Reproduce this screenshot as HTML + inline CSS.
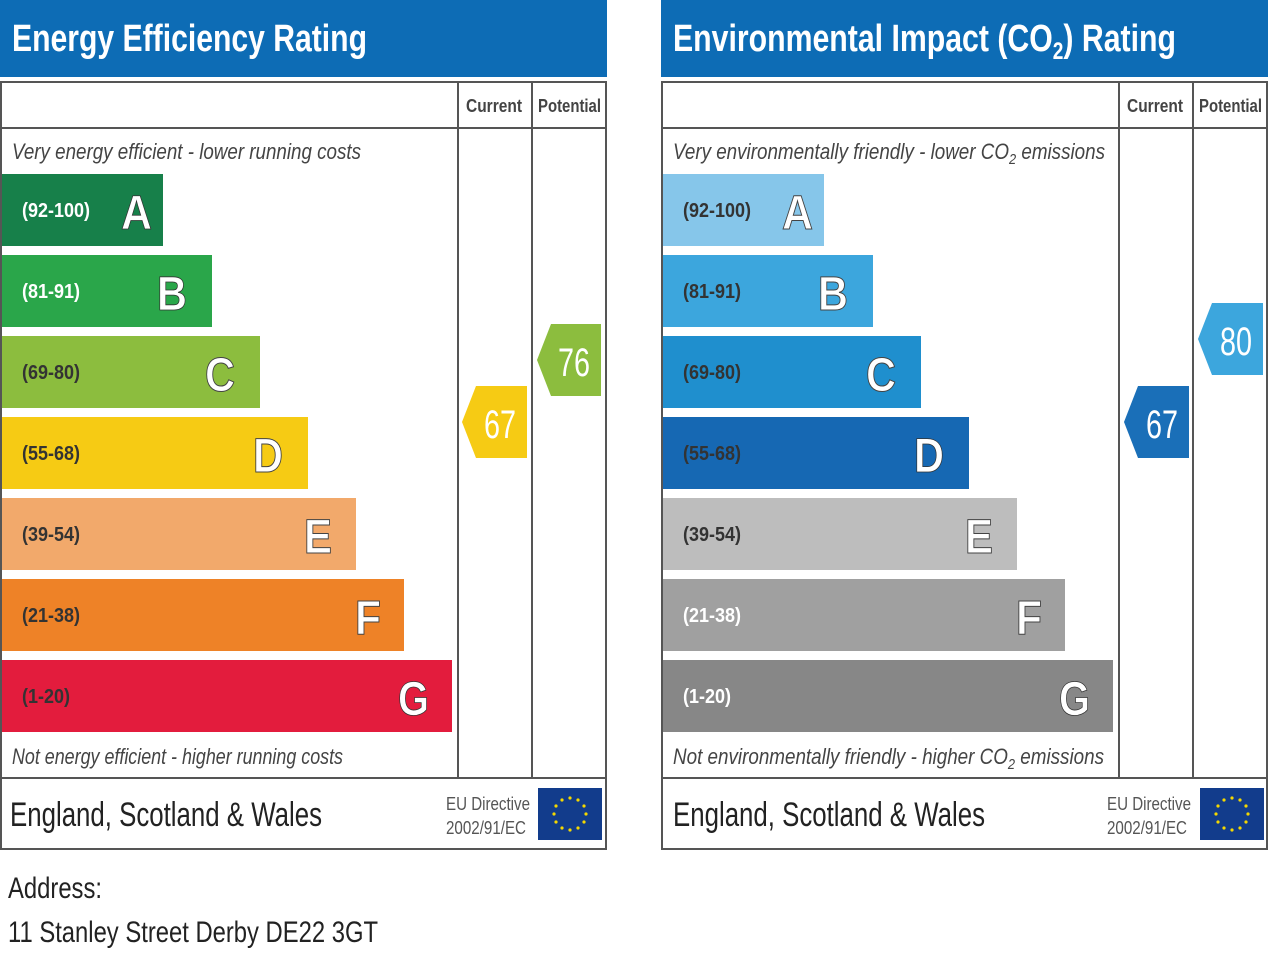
<!DOCTYPE html>
<html><head><meta charset="utf-8"><style>
html,body{margin:0;padding:0;background:#fff;width:1280px;height:960px;overflow:hidden}
svg text{font-family:"Liberation Sans Narrow","Liberation Sans",sans-serif}
</style></head><body>
<svg width="1280" height="960" viewBox="0 0 1280 960" xmlns="http://www.w3.org/2000/svg">
<defs>
<g id="eu">
<rect x="0" y="0" width="64" height="52" fill="#123c8c"/>
<g fill="#f5d800">
<circle cx="32" cy="10" r="1.6"/><circle cx="40" cy="12" r="1.6"/><circle cx="46" cy="18" r="1.6"/><circle cx="48" cy="26" r="1.6"/><circle cx="46" cy="34" r="1.6"/><circle cx="40" cy="40" r="1.6"/><circle cx="32" cy="42" r="1.6"/><circle cx="24" cy="40" r="1.6"/><circle cx="18" cy="34" r="1.6"/><circle cx="16" cy="26" r="1.6"/><circle cx="18" cy="18" r="1.6"/><circle cx="24" cy="12" r="1.6"/>
</g></g>
</defs>

<!-- LEFT PANEL -->
<rect x="0" y="0" width="607" height="77" fill="#0d6cb5"/>
<text x="12" y="51" font-size="38" font-weight="bold" fill="#fff" textLength="355" lengthAdjust="spacingAndGlyphs">Energy Efficiency Rating</text>
<rect x="1" y="82" width="605" height="767" fill="none" stroke="#555" stroke-width="2"/>
<line x1="1" y1="128" x2="606" y2="128" stroke="#555" stroke-width="2"/>
<line x1="458" y1="82" x2="458" y2="778" stroke="#555" stroke-width="2"/>
<line x1="532" y1="82" x2="532" y2="778" stroke="#555" stroke-width="2"/>
<line x1="1" y1="778" x2="606" y2="778" stroke="#555" stroke-width="2"/>
<text x="466" y="112" font-size="18" font-weight="bold" fill="#444" textLength="56" lengthAdjust="spacingAndGlyphs">Current</text>
<text x="538" y="112" font-size="18" font-weight="bold" fill="#444" textLength="63" lengthAdjust="spacingAndGlyphs">Potential</text>
<text x="12" y="159" font-size="22" font-style="italic" fill="#444" textLength="349" lengthAdjust="spacingAndGlyphs">Very energy efficient - lower running costs</text>
<text x="12" y="764" font-size="22" font-style="italic" fill="#444" textLength="331" lengthAdjust="spacingAndGlyphs">Not energy efficient - higher running costs</text>

<g font-weight="bold" lengthAdjust="spacingAndGlyphs">
<rect x="2" y="174" width="161" height="72" fill="#17804a"/>
<text x="22" y="217" font-size="20" fill="#fff" textLength="68" lengthAdjust="spacingAndGlyphs">(92-100)</text><text x="121" y="229" font-size="48" fill="#fff" stroke="#333" stroke-width="0.8" textLength="31" lengthAdjust="spacingAndGlyphs">A</text>
<rect x="2" y="255" width="210" height="72" fill="#2aa64a"/>
<text x="22" y="298" font-size="20" fill="#fff" textLength="58" lengthAdjust="spacingAndGlyphs">(81-91)</text><text x="157" y="310" font-size="48" fill="#fff" stroke="#333" stroke-width="0.8" textLength="30" lengthAdjust="spacingAndGlyphs">B</text>
<rect x="2" y="336" width="258" height="72" fill="#8cbd3e"/>
<text x="22" y="379" font-size="20" fill="#333" textLength="58" lengthAdjust="spacingAndGlyphs">(69-80)</text><text x="205" y="391" font-size="48" fill="#fff" stroke="#444" stroke-width="1" textLength="30" lengthAdjust="spacingAndGlyphs">C</text>
<rect x="2" y="417" width="306" height="72" fill="#f6cb14"/>
<text x="22" y="460" font-size="20" fill="#333" textLength="58" lengthAdjust="spacingAndGlyphs">(55-68)</text><text x="253" y="472" font-size="48" fill="#fff" stroke="#444" stroke-width="1" textLength="30" lengthAdjust="spacingAndGlyphs">D</text>
<rect x="2" y="498" width="354" height="72" fill="#f2a96b"/>
<text x="22" y="541" font-size="20" fill="#333" textLength="58" lengthAdjust="spacingAndGlyphs">(39-54)</text><text x="304" y="553" font-size="48" fill="#fff" stroke="#444" stroke-width="1" textLength="28" lengthAdjust="spacingAndGlyphs">E</text>
<rect x="2" y="579" width="402" height="72" fill="#ee8227"/>
<text x="22" y="622" font-size="20" fill="#333" textLength="58" lengthAdjust="spacingAndGlyphs">(21-38)</text><text x="355" y="634" font-size="48" fill="#fff" stroke="#444" stroke-width="1" textLength="26" lengthAdjust="spacingAndGlyphs">F</text>
<rect x="2" y="660" width="450" height="72" fill="#e31c3d"/>
<text x="22" y="703" font-size="20" fill="#333" textLength="48" lengthAdjust="spacingAndGlyphs">(1-20)</text><text x="398" y="715" font-size="48" fill="#fff" stroke="#333" stroke-width="0.8" textLength="31" lengthAdjust="spacingAndGlyphs">G</text>
</g>

<polygon points="476,386 527,386 527,458 476,458 462,422" fill="#f6cb14"/>
<text x="484" y="438" font-size="40" fill="#fff" textLength="32" lengthAdjust="spacingAndGlyphs">67</text>
<polygon points="551,324 601,324 601,396 551,396 537,360" fill="#8cbd3e"/>
<text x="558" y="376" font-size="40" fill="#fff" textLength="32" lengthAdjust="spacingAndGlyphs">76</text>

<text x="10" y="826" font-size="34" fill="#222" textLength="312" lengthAdjust="spacingAndGlyphs">England, Scotland &amp; Wales</text>
<text x="446" y="810" font-size="18" fill="#555" textLength="84" lengthAdjust="spacingAndGlyphs">EU Directive</text>
<text x="446" y="834" font-size="18" fill="#555" textLength="80" lengthAdjust="spacingAndGlyphs">2002/91/EC</text>
<use href="#eu" x="538" y="788"/>

<!-- RIGHT PANEL -->
<rect x="661" y="0" width="607" height="77" fill="#0d6cb5"/>
<text x="673" y="51" font-size="38" font-weight="bold" fill="#fff" textLength="503" lengthAdjust="spacingAndGlyphs">Environmental Impact (CO<tspan font-size="24" dy="8">2</tspan><tspan dy="-8">) Rating</tspan></text>
<rect x="662" y="82" width="605" height="767" fill="none" stroke="#555" stroke-width="2"/>
<line x1="662" y1="128" x2="1267" y2="128" stroke="#555" stroke-width="2"/>
<line x1="1119" y1="82" x2="1119" y2="778" stroke="#555" stroke-width="2"/>
<line x1="1193" y1="82" x2="1193" y2="778" stroke="#555" stroke-width="2"/>
<line x1="662" y1="778" x2="1267" y2="778" stroke="#555" stroke-width="2"/>
<text x="1127" y="112" font-size="18" font-weight="bold" fill="#444" textLength="56" lengthAdjust="spacingAndGlyphs">Current</text>
<text x="1199" y="112" font-size="18" font-weight="bold" fill="#444" textLength="63" lengthAdjust="spacingAndGlyphs">Potential</text>
<text x="673" y="159" font-size="22" font-style="italic" fill="#444" textLength="432" lengthAdjust="spacingAndGlyphs">Very environmentally friendly - lower CO<tspan font-size="15" dy="5">2</tspan><tspan dy="-5"> emissions</tspan></text>
<text x="673" y="764" font-size="22" font-style="italic" fill="#444" textLength="431" lengthAdjust="spacingAndGlyphs">Not environmentally friendly - higher CO<tspan font-size="15" dy="5">2</tspan><tspan dy="-5"> emissions</tspan></text>

<g font-weight="bold">
<rect x="663" y="174" width="161" height="72" fill="#86c6ea"/>
<text x="683" y="217" font-size="20" fill="#333" textLength="68" lengthAdjust="spacingAndGlyphs">(92-100)</text><text x="782" y="229" font-size="48" fill="#fff" stroke="#444" stroke-width="1" textLength="31" lengthAdjust="spacingAndGlyphs">A</text>
<rect x="663" y="255" width="210" height="72" fill="#3ca6dd"/>
<text x="683" y="298" font-size="20" fill="#333" textLength="58" lengthAdjust="spacingAndGlyphs">(81-91)</text><text x="818" y="310" font-size="48" fill="#fff" stroke="#444" stroke-width="1" textLength="30" lengthAdjust="spacingAndGlyphs">B</text>
<rect x="663" y="336" width="258" height="72" fill="#1f8fce"/>
<text x="683" y="379" font-size="20" fill="#333" textLength="58" lengthAdjust="spacingAndGlyphs">(69-80)</text><text x="866" y="391" font-size="48" fill="#fff" stroke="#444" stroke-width="1" textLength="30" lengthAdjust="spacingAndGlyphs">C</text>
<rect x="663" y="417" width="306" height="72" fill="#1668b3"/>
<text x="683" y="460" font-size="20" fill="#333" textLength="58" lengthAdjust="spacingAndGlyphs">(55-68)</text><text x="914" y="472" font-size="48" fill="#fff" stroke="#333" stroke-width="0.8" textLength="30" lengthAdjust="spacingAndGlyphs">D</text>
<rect x="663" y="498" width="354" height="72" fill="#bdbdbd"/>
<text x="683" y="541" font-size="20" fill="#333" textLength="58" lengthAdjust="spacingAndGlyphs">(39-54)</text><text x="965" y="553" font-size="48" fill="#fff" stroke="#444" stroke-width="1" textLength="28" lengthAdjust="spacingAndGlyphs">E</text>
<rect x="663" y="579" width="402" height="72" fill="#a0a0a0"/>
<text x="683" y="622" font-size="20" fill="#fff" textLength="58" lengthAdjust="spacingAndGlyphs">(21-38)</text><text x="1016" y="634" font-size="48" fill="#fff" stroke="#444" stroke-width="1" textLength="26" lengthAdjust="spacingAndGlyphs">F</text>
<rect x="663" y="660" width="450" height="72" fill="#878787"/>
<text x="683" y="703" font-size="20" fill="#fff" textLength="48" lengthAdjust="spacingAndGlyphs">(1-20)</text><text x="1059" y="715" font-size="48" fill="#fff" stroke="#333" stroke-width="0.8" textLength="31" lengthAdjust="spacingAndGlyphs">G</text>
</g>

<polygon points="1138,386 1189,386 1189,458 1138,458 1124,422" fill="#1a6fb8"/>
<text x="1146" y="438" font-size="40" fill="#fff" textLength="32" lengthAdjust="spacingAndGlyphs">67</text>
<polygon points="1212,303 1263,303 1263,375 1212,375 1198,339" fill="#3ca6dd"/>
<text x="1220" y="355" font-size="40" fill="#fff" textLength="32" lengthAdjust="spacingAndGlyphs">80</text>

<text x="673" y="826" font-size="34" fill="#222" textLength="312" lengthAdjust="spacingAndGlyphs">England, Scotland &amp; Wales</text>
<text x="1107" y="810" font-size="18" fill="#555" textLength="84" lengthAdjust="spacingAndGlyphs">EU Directive</text>
<text x="1107" y="834" font-size="18" fill="#555" textLength="80" lengthAdjust="spacingAndGlyphs">2002/91/EC</text>
<use href="#eu" x="1200" y="788"/>

<!-- Address -->
<text x="8" y="898" font-size="30" fill="#222" textLength="94" lengthAdjust="spacingAndGlyphs">Address:</text>
<text x="8" y="942" font-size="30" fill="#222" textLength="370" lengthAdjust="spacingAndGlyphs">11 Stanley Street Derby DE22 3GT</text>
</svg>
</body></html>
